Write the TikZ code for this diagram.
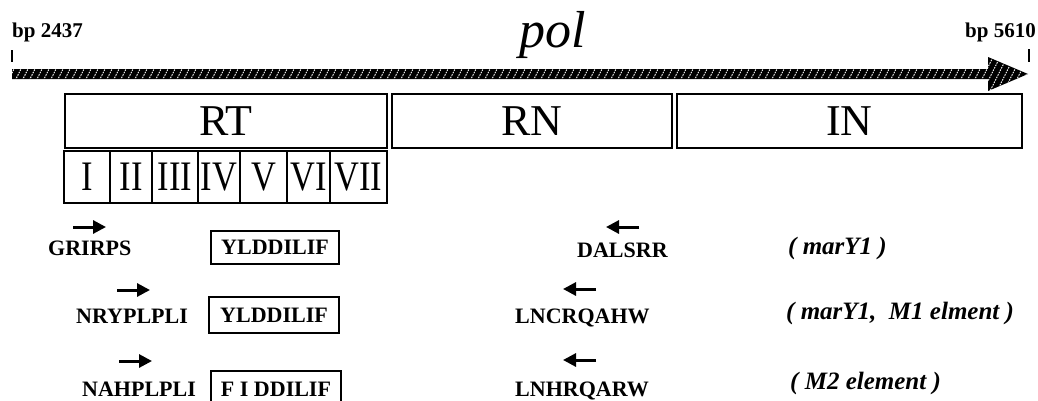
\documentclass[tikz,border=0pt]{standalone}
\usepackage{fontspec}
\setmainfont{Liberation Serif}
\newfontfamily\narrowserif[FakeStretch=0.82]{Liberation Serif}
\usetikzlibrary{arrows.meta}
\begin{document}
\begin{tikzpicture}[x=1pt,y=-1pt,
  dombox/.style={draw, line width=2.8pt, minimum height=54pt, inner sep=0pt,
    font=\fontsize{44}{44}\selectfont},
  motifbox/.style={draw, line width=2.8pt, minimum height=52pt, inner sep=0pt,
    font=\narrowserif\fontsize{42}{42}\selectfont},
  seqlabel/.style={inner sep=0pt, anchor=base west, font=\bfseries\fontsize{22}{22}\selectfont},
  seqbox/.style={draw, line width=1.8pt, inner sep=0pt, minimum width=128pt,
    font=\bfseries\fontsize{22}{22}\selectfont},
  originlabel/.style={inner sep=0pt, anchor=base west,
    font=\bfseries\itshape\fontsize{25}{25}\selectfont},
  bplabel/.style={inner sep=0pt, font=\bfseries\fontsize{21}{21}\selectfont},
  primerarrow/.style={line width=3pt, -{Triangle[length=13pt,width=13pt]}},
  tickline/.style={line width=1.2pt}]
\useasboundingbox (0,0) rectangle (1038,400);

% gene arrow with hatched fill
\def\polarrow{(12,69) -- (988,69) -- (988,57) -- (1028,74) -- (988,91) -- (988,79) -- (12,79) -- cycle}
\fill[black] \polarrow;
\begin{scope}
  \clip \polarrow;
  \foreach \x in {-20,-13,...,1040}
    \draw[white, line width=0.9pt, dash pattern=on 1.6pt off 1.1pt] (\x,95) -- (\x+20,55);
\end{scope}

% end labels and ticks
\node[bplabel, anchor=base west] (start) at (12,37) {bp 2437};
\node[bplabel, anchor=base east] (stop) at (1036,37) {bp 5610};
\draw[tickline] (12,50) -- (12,62);
\draw[tickline] (1029,49) -- (1029,62);
\node[inner sep=0pt, anchor=base, font=\itshape\fontsize{52}{52}\selectfont] (pol) at (553,47) {pol};

% domains
\node[dombox, minimum width=322pt] (rt) at (226,121) {RT};
\node[dombox, minimum width=280pt] (rn) at (532,121) {RN};
\node[dombox, minimum width=345pt] (in) at (849.5,121) {IN};

% conserved motifs of RT
\node[motifbox, minimum width=46pt] (m1) at (87,177) {I};
\node[motifbox, minimum width=42pt] (m2) at (131,177) {II};
\node[motifbox, minimum width=46pt] (m3) at (175,177) {III};
\node[motifbox, minimum width=42pt] (m4) at (219,177) {IV};
\node[motifbox, minimum width=47pt] (m5) at (263.5,177) {V};
\node[motifbox, minimum width=43pt] (m6) at (308.5,177) {VI};
\node[motifbox, minimum width=57pt] (m7) at (358.5,177) {VII};

% row 1
\draw[primerarrow] (73,227) -- (106,227);
\node[seqlabel] (f1) at (48,255) {GRIRPS};
\node[seqbox, minimum height=33pt] (b1) at (275,247.5) {YLDDILIF};
\draw[primerarrow] (639,227) -- (606,227);
\node[seqlabel] (r1) at (577,257) {DALSRR};
\node[originlabel] (o1) at (788,254) {( marY1 )};

% row 2
\draw[primerarrow] (117,290) -- (150,290);
\node[seqlabel] (f2) at (76,323) {NRYPLPLI};
\node[seqbox, minimum height=36pt, minimum width=130pt] (b2) at (274,315) {YLDDILIF};
\draw[primerarrow] (596,289) -- (563,289);
\node[seqlabel] (r2) at (515,323) {LNCRQAHW};
\node[originlabel] (o2) at (786,319) {( marY1,\ \ M1 elment )};

% row 3
\draw[primerarrow] (119,361) -- (152,361);
\node[seqlabel] (f3) at (82,396) {NAHPLPLI};
\node[seqbox, minimum height=36pt, minimum width=130pt] (b3) at (276,389) {F I DDILIF};
\draw[primerarrow] (596,360) -- (563,360);
\node[seqlabel] (r3) at (515,396) {LNHRQARW};
\node[originlabel] (o3) at (790,389) {( M2 element )};
\end{tikzpicture}
\end{document}
